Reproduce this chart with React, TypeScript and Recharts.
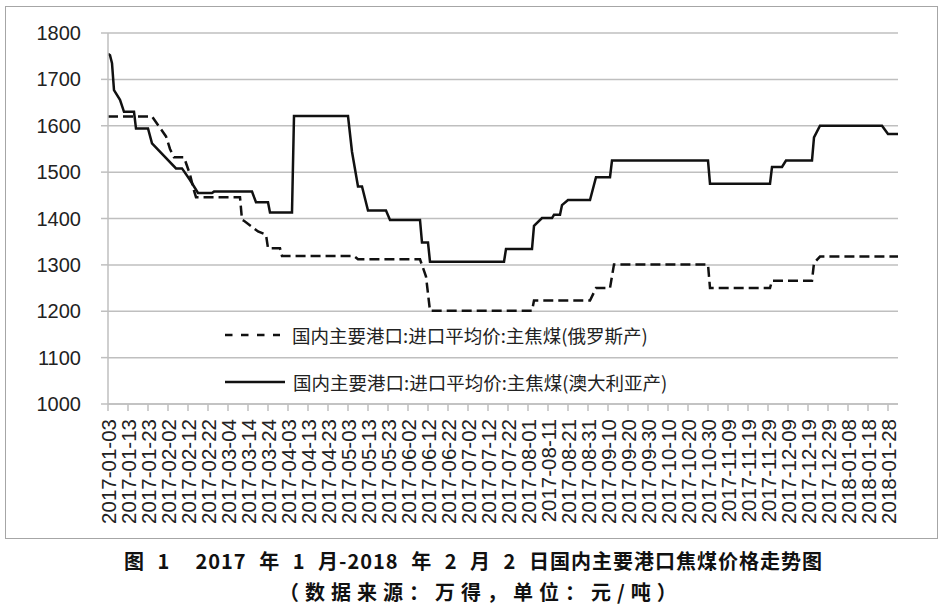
import { CartesianGrid, Legend, Line, LineChart, XAxis, YAxis } from "recharts";

// day offsets counted from 2017-01-03 (day 0) to 2018-02-02 (day 395)
const ruDays = [0, 22, 29, 31, 33, 38, 41, 43, 44, 66, 67, 68, 75, 79, 80, 86, 87, 123, 125, 156, 159, 161, 212, 213, 241, 244, 251, 253, 300, 301, 331, 332, 352, 353, 356, 395];
const ruPrices = [1620, 1620, 1577, 1550, 1532, 1532, 1495, 1460, 1446, 1446, 1397, 1395, 1372, 1365, 1336, 1336, 1319, 1319, 1312, 1312, 1275, 1201, 1201, 1223, 1223, 1250, 1250, 1301, 1301, 1250, 1250, 1266, 1266, 1304, 1318, 1318];

const auDays = [0, 1, 2, 3, 6, 8, 13, 14, 20, 22, 34, 37, 41, 45, 52, 53, 72, 74, 80, 81, 92, 93, 120, 122, 125, 127, 130, 139, 141, 156, 157, 160, 161, 198, 199, 212, 213, 217, 222, 223, 226, 227, 230, 241, 244, 251, 252, 300, 301, 331, 332, 337, 339, 352, 353, 356, 387, 390, 395];
const auPrices = [1755, 1752, 1735, 1677, 1656, 1630, 1630, 1594, 1594, 1562, 1508, 1508, 1483, 1455, 1455, 1458, 1458, 1435, 1435, 1413, 1413, 1621, 1621, 1544, 1469, 1469, 1417, 1417, 1397, 1397, 1348, 1348, 1307, 1307, 1334, 1334, 1384, 1401, 1401, 1408, 1408, 1429, 1440, 1440, 1489, 1489, 1525, 1525, 1475, 1475, 1511, 1511, 1525, 1525, 1575, 1600, 1600, 1582, 1582];

const xLabels = [
  "2017-01-03", "2017-01-13", "2017-01-23", "2017-02-02", "2017-02-12", "2017-02-22",
  "2017-03-04", "2017-03-14", "2017-03-24", "2017-04-03", "2017-04-13", "2017-04-23",
  "2017-05-03", "2017-05-13", "2017-05-23", "2017-06-02", "2017-06-12", "2017-06-22",
  "2017-07-02", "2017-07-12", "2017-07-22", "2017-08-01", "2017-08-11", "2017-08-21",
  "2017-08-31", "2017-09-10", "2017-09-20", "2017-09-30", "2017-10-10", "2017-10-20",
  "2017-10-30", "2017-11-09", "2017-11-19", "2017-11-29", "2017-12-09", "2017-12-19",
  "2017-12-29", "2018-01-08", "2018-01-18", "2018-01-28",
];
const xTicks = xLabels.map((_, i) => i * 10);
const yTicks = [1000, 1100, 1200, 1300, 1400, 1500, 1600, 1700, 1800];

const ruName = "国内主要港口:进口平均价:主焦煤(俄罗斯产)";
const auName = "国内主要港口:进口平均价:主焦煤(澳大利亚产)";
const title = "图 1  2017 年 1 月-2018 年 2 月 2 日国内主要港口焦煤价格走势图";
const subtitle = "（数据来源：万得，单位：元/吨）";

const ruData = ruDays.map((d, i) => ({ day: d, price: ruPrices[i] }));
const auData = auDays.map((d, i) => ({ day: d, price: auPrices[i] }));

const C = {
  line: "#111",
  grid: "#bfbfbf",
  text: "#222",
  border: "#a6a6a6",
};

function XTick({ x, y, payload }: { x?: number; y?: number; payload?: { value: number } }) {
  const label = xLabels[Math.round((payload?.value ?? 0) / 10)];
  return (
    <text
      x={x}
      y={y}
      transform={`rotate(-90 ${x} ${y})`}
      textAnchor="end"
      dominantBaseline="central"
      fontSize={20.5}
      fontFamily="Liberation Sans, Arial, sans-serif"
      fill={C.text}
    >
      {label}
    </text>
  );
}

function LegendBox() {
  const rows = [
    { name: ruName, dash: "7.5 8.5", w: 55, gap: 12 },
    { name: auName, dash: undefined, w: 60, gap: 8 },
  ];
  return (
    <div>
      {rows.map((r, i) => (
        <div
          key={r.name}
          style={{ display: "flex", alignItems: "center", height: 24, marginTop: i ? 23 : 0 }}
        >
          <svg width={r.w} height={24} style={{ display: "block" }}>
            <line x1={0} y1={12} x2={r.w} y2={12} stroke={C.line} strokeWidth={2.5} strokeDasharray={r.dash} />
          </svg>
          <span
            style={{
              marginLeft: r.gap,
              fontFamily: "Noto Sans CJK SC, sans-serif",
              fontSize: 18.5,
              color: C.text,
              whiteSpace: "nowrap",
              lineHeight: "24px",
            }}
          >
            {r.name}
          </span>
        </div>
      ))}
    </div>
  );
}

const captionStyle = {
  position: "absolute" as const,
  fontFamily: "Noto Sans CJK SC, sans-serif",
  fontWeight: "bold" as const,
  fontSize: 20,
  lineHeight: "24px",
  height: 24,
  color: "#111",
  whiteSpace: "pre" as const,
};

export default function App() {
  return (
    <div style={{ position: "absolute", left: 0, top: 0, width: 945, height: 615, background: "#fff" }}>
      <div
        style={{
          position: "absolute",
          left: 5,
          top: 6,
          width: 933,
          height: 533,
          border: `1.5px solid ${C.border}`,
          boxSizing: "border-box",
        }}
      />
      <LineChart
        width={945}
        height={540}
        margin={{ top: 33, right: 47, bottom: 6, left: 48 }}
        style={{ position: "absolute", left: 0, top: 0 }}
      >
        <CartesianGrid stroke={C.grid} strokeWidth={1.5} vertical={false} />
        <XAxis
          dataKey="day"
          type="number"
          domain={[0, 395]}
          ticks={xTicks}
          interval={0}
          height={130}
          tickSize={7}
          tickMargin={8}
          stroke={C.grid}
          strokeWidth={1.5}
          tick={<XTick />}
          allowDataOverflow
        />
        <YAxis
          type="number"
          domain={[1000, 1800]}
          ticks={yTicks}
          width={60}
          tickSize={7}
          tickMargin={20}
          stroke={C.grid}
          strokeWidth={1.5}
          tick={{ fill: C.text, fontSize: 20, fontFamily: "Liberation Sans, Arial, sans-serif" }}
        />
        <Legend
          layout="horizontal"
          verticalAlign="middle"
          align="center"
          content={<LegendBox />}
          wrapperStyle={{ position: "absolute", left: 225, top: 323, width: 500 }}
        />
        <Line
          data={ruData}
          dataKey="price"
          name={ruName}
          type="linear"
          stroke={C.line}
          strokeWidth={2.5}
          strokeDasharray="10 5"
          dot={false}
          isAnimationActive={false}
        />
        <Line
          data={auData}
          dataKey="price"
          name={auName}
          type="linear"
          stroke={C.line}
          strokeWidth={2.5}
          dot={false}
          isAnimationActive={false}
        />
      </LineChart>
      <div style={{ ...captionStyle, left: 124, top: 549, letterSpacing: 1, wordSpacing: 7 }}>{title}</div>
      <div style={{ ...captionStyle, left: 279, top: 580, letterSpacing: 6 }}>{subtitle}</div>
    </div>
  );
}
